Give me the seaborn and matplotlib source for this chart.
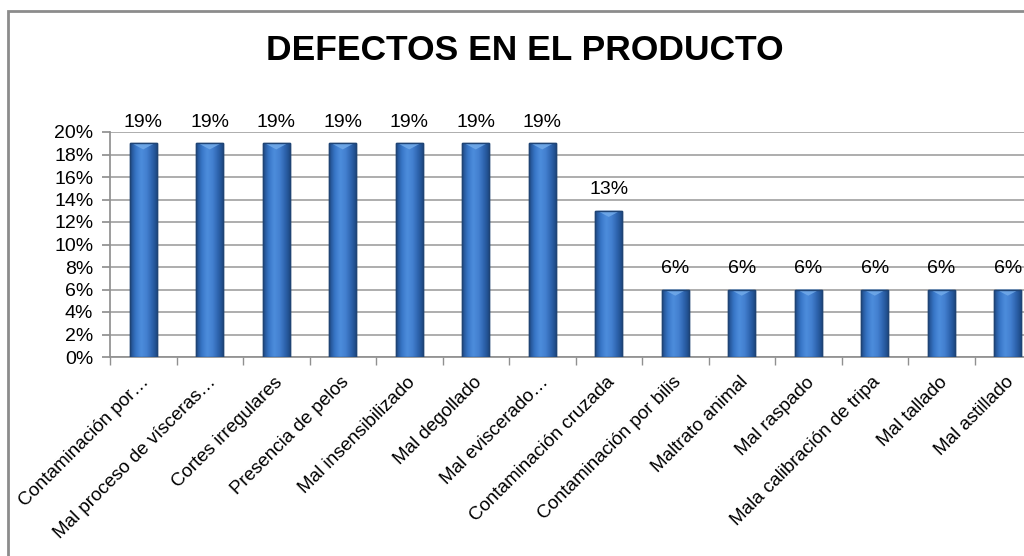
import matplotlib
matplotlib.use("Agg")
import matplotlib.pyplot as plt
import matplotlib.transforms as mtransforms
import seaborn as sns
import pandas as pd
import numpy as np
from matplotlib.patches import Rectangle
from matplotlib.colors import LinearSegmentedColormap

categories = [
    "Contaminación por…", "Mal proceso de vísceras…", "Cortes irregulares",
    "Presencia de pelos", "Mal insensibilizado", "Mal degollado",
    "Mal eviscerado…", "Contaminación cruzada", "Contaminación por bilis",
    "Maltrato animal", "Mal raspado", "Mala calibración de tripa",
    "Mal tallado", "Mal astillado",
]
values = [19, 19, 19, 19, 19, 19, 19, 13, 6, 6, 6, 6, 6, 6]
yticks = [0, 2, 4, 6, 8, 10, 12, 14, 16, 18, 20]

sns.set_theme(style="white")
plt.rcParams['font.family'] = ['Liberation Sans', 'DejaVu Sans']
plt.rcParams['text.color'] = 'black'
plt.rcParams['xtick.color'] = 'black'
plt.rcParams['ytick.color'] = 'black'

df = pd.DataFrame({"cat": categories, "val": values})

fig = plt.figure(figsize=(10.24, 5.56), dpi=100)
fig.patches.append(Rectangle((8/1024, -0.1), 1.2, (556-11)/556 + 0.1, transform=fig.transFigure,
                             fill=False, edgecolor='#8c8c8c', linewidth=2, zorder=0))

ax = fig.add_axes([110/1024, (556-357)/556, (14*66.5)/1024, (357-132)/556])
sns.barplot(data=df, x="cat", y="val", ax=ax, color="#3a70ba", width=0.41,
            edgecolor="#1f4475", linewidth=1.0, saturation=1, zorder=3)

# gradient shading for the bars (3D look)
cmap = LinearSegmentedColormap.from_list(
    "barg", ["#1f4a86", "#3775c6", "#4d8ddc", "#4380d0", "#2d63ad", "#1c467f"])
grad = np.linspace(0, 1, 64).reshape(1, -1)
for p in list(ax.patches):
    x0, y0 = p.get_x(), p.get_y()
    w, h = p.get_width(), p.get_height()
    im = ax.imshow(grad, cmap=cmap, aspect='auto', extent=[x0, x0 + w, y0, y0 + h],
                   zorder=3.5, interpolation='bicubic')
    im.set_clip_path(p)
    ax.fill([x0 + w * 0.08, x0 + w * 0.92, x0 + w * 0.5], [y0 + h, y0 + h, y0 + h - 0.55],
            color="#6fa8e8", zorder=3.6, lw=0, alpha=0.9)
    ax.add_patch(Rectangle((x0, y0), w, h, fill=False, edgecolor="#1f4475", lw=1.0, zorder=3.7))

ax.set_ylim(0, 20)
ax.set_xlim(-0.5, len(categories) - 0.5)
ax.set_yticks(yticks)
ax.set_yticklabels([f"{t}%" for t in yticks], fontsize=14)
ax.yaxis.grid(True, color='#a0a0a0', linewidth=1.2, zorder=0)
ax.set_axisbelow(True)
ax.set_xlabel("")
ax.set_ylabel("")

for s in ['top', 'right']:
    ax.spines[s].set_visible(False)
ax.spines['left'].set_color('#909090')
ax.spines['bottom'].set_color('#909090')
ax.tick_params(axis='y', which='both', left=True, length=6, color='#909090', pad=6)

ax.set_xticks(range(len(categories)))
ax.set_xticklabels(categories, rotation=45, ha='right', rotation_mode='anchor', fontsize=13.5)
ax.tick_params(axis='x', which='major', bottom=False, pad=6)
offset = mtransforms.ScaledTranslation(-2/72, 0, fig.dpi_scale_trans)
for lbl in ax.get_xticklabels():
    lbl.set_transform(lbl.get_transform() + offset)
ax.set_xticks([i + 0.5 for i in range(-1, len(categories))], minor=True)
ax.tick_params(axis='x', which='minor', bottom=True, length=6, color='#909090')

for i, v in enumerate(values):
    ax.annotate(f"{v}%", (i, v), xytext=(0, 9), textcoords='offset points',
                ha='center', va='bottom', fontsize=14)

fig.text(525/1024, 1 - 50/556, "DEFECTOS EN EL PRODUCTO", ha='center', va='center',
         fontsize=25.5, fontweight='bold')

fig.savefig("out.png", dpi=100)
